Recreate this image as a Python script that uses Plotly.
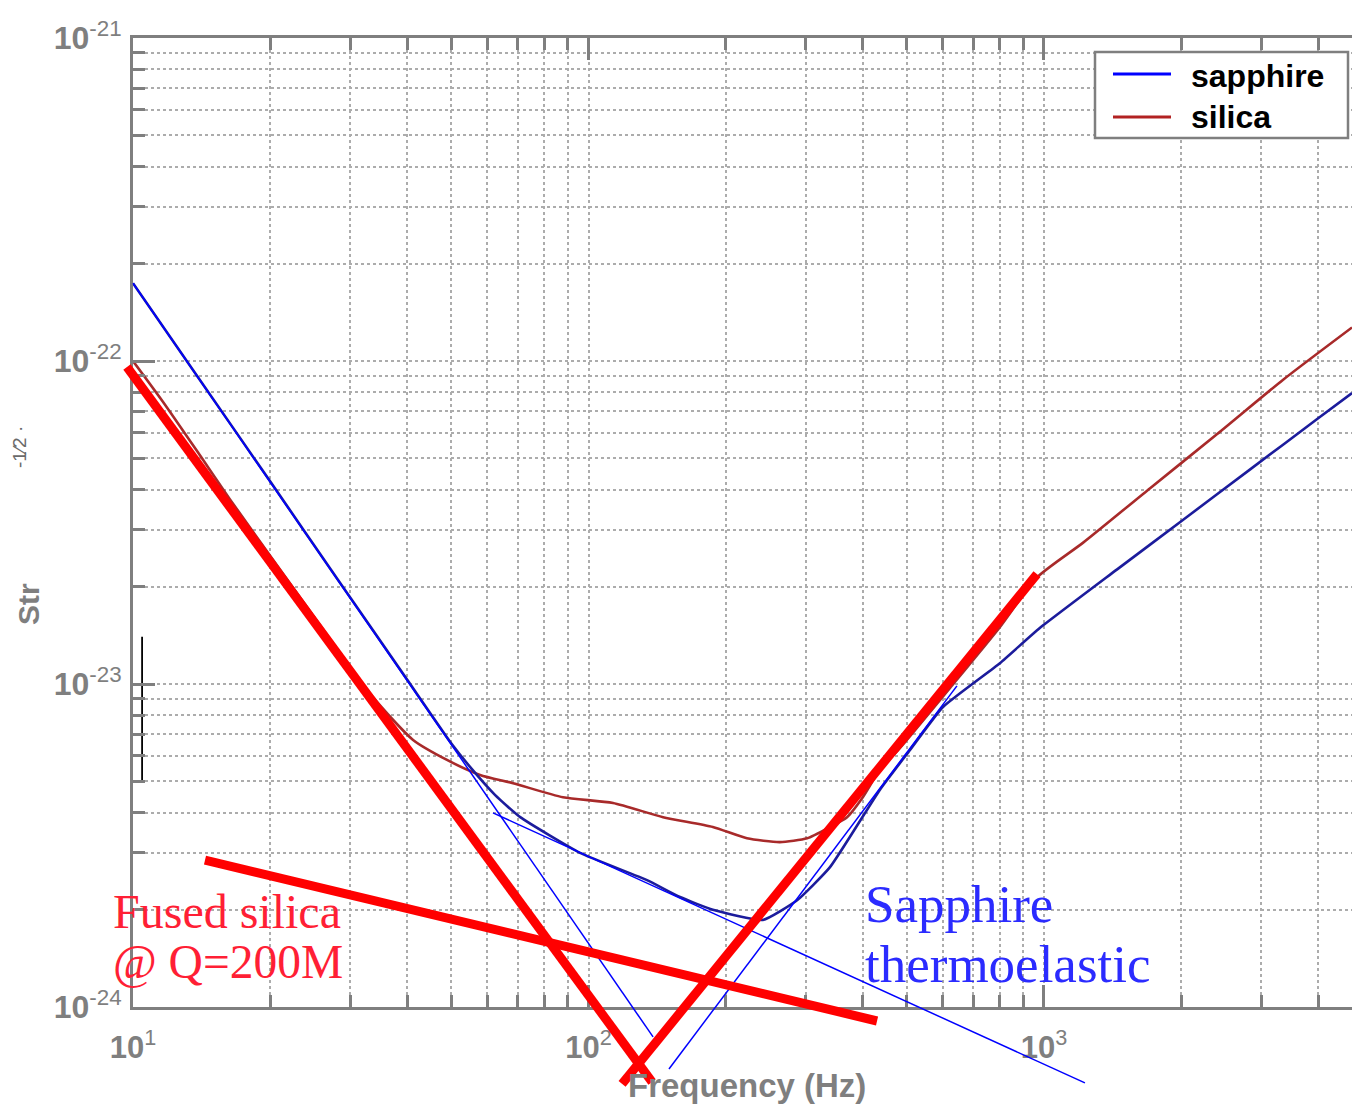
import plotly.graph_objects as go

W, H = 1352, 1105

# ---------------- data ----------------
sapphire_freq = [10, 14, 20, 28, 40, 50, 55, 62.4, 70.8, 95.8, 134.4, 158.8, 187.5,
                 241.5, 287, 339, 436, 508, 600, 800, 979, 1445, 2018, 2831, 3972, 4745]
sapphire_str = [1.74e-22, 8.77e-23, 4.24e-23, 2.13e-23, 1.03e-23, 6.54e-24, 5.53e-24,
                4.53e-24, 3.87e-24, 3.00e-24, 2.47e-24, 2.19e-24, 2.00e-24, 1.86e-24,
                2.14e-24, 2.71e-24, 4.70e-24, 6.25e-24, 8.49e-24, 1.16e-23, 1.49e-23,
                2.26e-23, 3.22e-23, 4.61e-23, 6.60e-23, 7.96e-23]

silica_freq = [10, 11.6, 13.8, 16.3, 23.3, 33.6, 41.2, 48.9, 57.8, 68.3, 87.9, 113.2,
               145.8, 187.5, 222.8, 263, 302, 339, 369.5, 400.5, 436, 483, 622, 800,
               966, 1219, 1710, 2400, 3350, 4745]
silica_str = [1.0e-22, 7.52e-23, 5.28e-23, 3.74e-23, 1.85e-23, 9.12e-24, 6.71e-24,
              5.82e-24, 5.23e-24, 4.93e-24, 4.46e-24, 4.28e-24, 3.87e-24, 3.61e-24,
              3.33e-24, 3.24e-24, 3.33e-24, 3.61e-24, 3.87e-24, 4.47e-24, 5.42e-24,
              6.34e-24, 9.73e-24, 1.50e-23, 2.14e-23, 2.74e-23, 4.04e-23, 5.94e-23,
              8.75e-23, 1.27e-22]

# hand-drawn asymptote overlays (endpoints: frequency, strain)
fused_lines_freq = [[9.70, 137.9], [118.5, 965.2], [14.39, 430]]
fused_lines_str = [[9.58e-23, 5.86e-25], [5.78e-25, 2.19e-23], [2.85e-24, 9.05e-25]]
sapph_lines_freq = [[10, 138.6], [61.7, 1230], [150.2, 644]]
sapph_lines_str = [[1.74e-22, 8.08e-25], [3.99e-24, 5.82e-25], [6.43e-25, 9.87e-24]]

# small black bar near the left axis
bar_freq = [10.47, 10.47]
bar_str = [1.40e-23, 4.97e-24]

x_ticks = [10, 100, 1000]
x_ticktext = ["<b>10</b><sup>1</sup>", "<b>10</b><sup>2</sup>", "<b>10</b><sup>3</sup>"]
y_ticks = [1e-24, 1e-23, 1e-22, 1e-21]
y_ticktext = ["<b>10</b><sup>-24</sup>", "<b>10</b><sup>-23</sup>",
              "<b>10</b><sup>-22</sup>", "<b>10</b><sup>-21</sup>"]
x_minor = [m * 10 ** e for e in (1, 2, 3) for m in range(2, 10)]
y_minor = [m * 10.0 ** e for e in (-24, -23, -22) for m in range(2, 10)]

# ---------------- layout geometry ----------------
X_RANGE = [1.0, 3.6762]
Y_RANGE = [-24.0, -21.0]
XDOM = [133 / W, 1.0]
YDOM = [(H - 1007) / H, (H - 38) / H]


def full_range(rng, dom):
    per = (rng[1] - rng[0]) / (dom[1] - dom[0])
    return [rng[0] - dom[0] * per, rng[1] + (1 - dom[1]) * per]


X2 = full_range(X_RANGE, XDOM)
Y2 = full_range(Y_RANGE, YDOM)

GRAY = "#7f7f7f"
GRID = "#acacac"
TICKFONT = dict(family="Liberation Sans", size=32, color=GRAY)

fig = go.Figure()

fig.add_trace(go.Scatter(x=silica_freq, y=silica_str, mode="lines",
                         line=dict(color="#a82a2a", width=2.6, shape="spline", smoothing=0.6),
                         showlegend=False))
fig.add_trace(go.Scatter(x=sapphire_freq, y=sapphire_str, mode="lines",
                         line=dict(color="#1c1c9c", width=2.6, shape="spline", smoothing=0.45),
                         showlegend=False))
fig.add_trace(go.Scatter(x=bar_freq, y=bar_str, mode="lines",
                         line=dict(color="black", width=1.8), showlegend=False))

for fx, sy in zip(sapph_lines_freq, sapph_lines_str):
    fig.add_trace(go.Scatter(x=fx, y=sy, mode="lines", xaxis="x2", yaxis="y2",
                             line=dict(color="#0000ff", width=1.5), showlegend=False))
for fx, sy in zip(fused_lines_freq, fused_lines_str):
    fig.add_trace(go.Scatter(x=fx, y=sy, mode="lines", xaxis="x2", yaxis="y2",
                             line=dict(color="#ff0000", width=9), showlegend=False))


def minor(vals):
    return dict(tickmode="array", tickvals=vals, ticks="inside", ticklen=12,
                tickwidth=2.5, tickcolor=GRAY, showgrid=True, gridcolor=GRID,
                griddash="dot", gridwidth=1.5)


fig.update_layout(
    width=W, height=H,
    margin=dict(l=0, r=0, t=0, b=0, pad=0),
    paper_bgcolor="white", plot_bgcolor="rgba(0,0,0,0)",
    showlegend=False,
    xaxis=dict(type="log", range=X_RANGE, domain=XDOM, anchor="y", automargin=False,
               tickmode="array", tickvals=x_ticks, ticktext=x_ticktext,
               ticks="inside", ticklen=22, tickwidth=3, tickcolor=GRAY,
               showline=True, linecolor=GRAY, linewidth=3, mirror="ticks",
               showgrid=True, gridcolor=GRID, griddash="dot", gridwidth=1.5,
               tickfont=dict(family="Liberation Sans", size=31, color=GRAY),
               ticklabelstandoff=11, minor=minor(x_minor)),
    yaxis=dict(type="log", range=Y_RANGE, domain=YDOM, anchor="x", automargin=False,
               tickmode="array", tickvals=y_ticks, ticktext=y_ticktext,
               ticks="inside", ticklen=22, tickwidth=3, tickcolor=GRAY,
               showline=True, linecolor=GRAY, linewidth=3, mirror=False,
               showgrid=True, gridcolor=GRID, griddash="dot", gridwidth=1.5,
               tickfont=TICKFONT, ticklabelstandoff=2, minor=minor(y_minor)),
    xaxis2=dict(type="log", range=X2, domain=[0, 1], anchor="y2", visible=False,
                fixedrange=True, automargin=False),
    yaxis2=dict(type="log", range=Y2, domain=[0, 1], anchor="x2", visible=False,
                fixedrange=True, automargin=False),
)


def px(x):
    return x / W


def py(y):
    return 1 - y / H


# legend (drawn by hand to match the box)
fig.add_shape(type="rect", xref="paper", yref="paper",
              x0=px(1095), x1=px(1348), y0=py(52), y1=py(138),
              line=dict(color=GRAY, width=2.5), fillcolor="white", layer="above")
fig.add_shape(type="line", xref="paper", yref="paper",
              x0=px(1113), x1=px(1171), y0=py(74), y1=py(74),
              line=dict(color="#0000ff", width=3))
fig.add_shape(type="line", xref="paper", yref="paper",
              x0=px(1113), x1=px(1171), y0=py(117), y1=py(117),
              line=dict(color="#b22222", width=3))

annots = [
    dict(text="<b>sapphire</b>", x=px(1189), y=py(76), size=32, color="black",
         family="Liberation Sans", xanchor="left"),
    dict(text="<b>silica</b>", x=px(1189), y=py(117), size=32, color="black",
         family="Liberation Sans", xanchor="left"),
    dict(text="<b>Frequency (Hz)</b>", x=px(747), y=py(1085), size=33, color=GRAY,
         family="Liberation Sans", xanchor="center"),
    dict(text="Fused silica", x=px(111), y=py(911), size=48, color="#ff1f35",
         family="Liberation Serif", xanchor="left"),
    dict(text="@ Q=200M", x=px(111), y=py(962), size=47.5, color="#ff1f35",
         family="Liberation Serif", xanchor="left"),
    dict(text="Sapphire", x=px(863), y=py(904), size=53, color="#2b2bff",
         family="Liberation Serif", xanchor="left"),
    dict(text="thermoelastic", x=px(863), y=py(964), size=53, color="#2b2bff",
         family="Liberation Serif", xanchor="left"),
]
for a in annots:
    fig.add_annotation(text=a["text"], x=a["x"], y=a["y"], xref="paper", yref="paper",
                       xanchor=a["xanchor"], yanchor="middle", showarrow=False,
                       font=dict(family=a["family"], size=a["size"], color=a["color"]))

fig.add_annotation(text="<b>Str</b>", x=px(29), y=py(604), xref="paper", yref="paper",
                   textangle=-90, showarrow=False, xanchor="center", yanchor="middle",
                   font=dict(family="Liberation Sans", size=30, color=GRAY))
fig.add_annotation(text="-1⁄2 ·", x=px(19), y=py(447), xref="paper", yref="paper",
                   textangle=-90, showarrow=False, xanchor="center", yanchor="middle",
                   font=dict(family="Liberation Sans", size=19, color="#6a6a6a"))

fig.write_html("out.html")
